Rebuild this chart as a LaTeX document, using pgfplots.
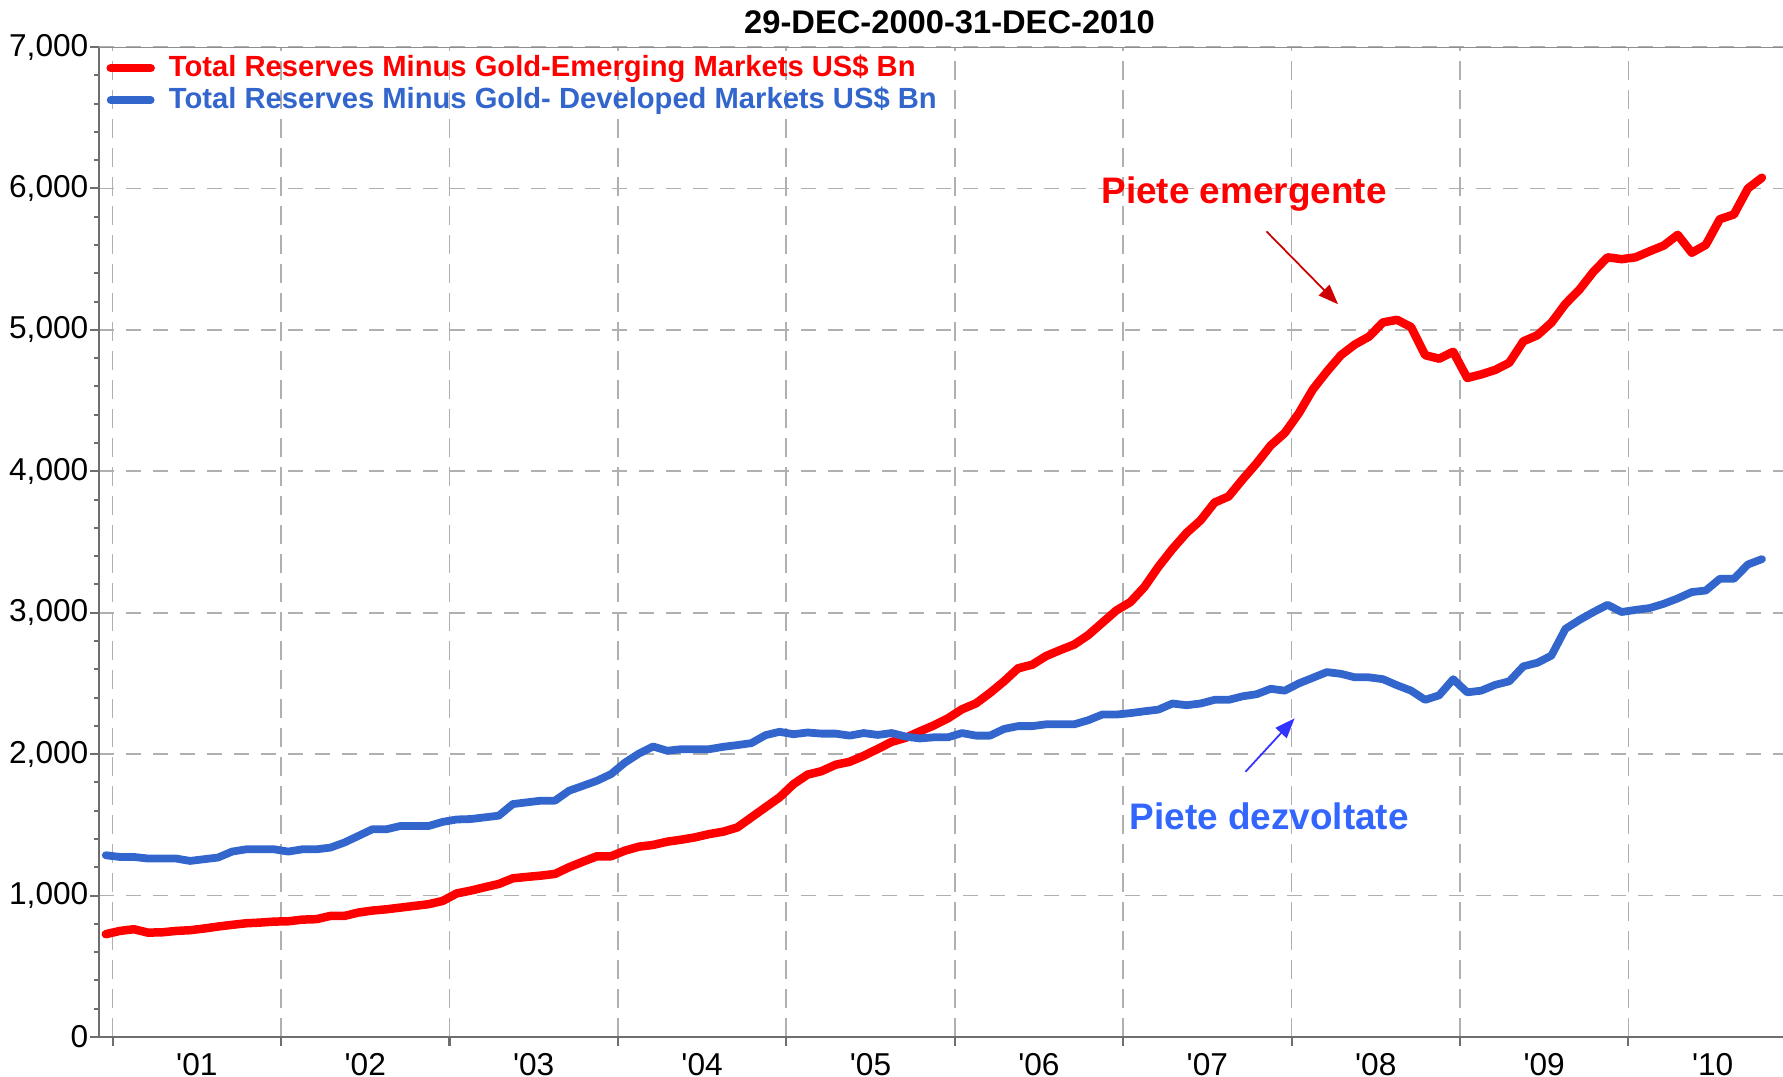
\documentclass[border=0pt]{standalone}
\usepackage{fontspec}
\setmainfont{Liberation Sans}
\usepackage{pgfplots}
\pgfplotsset{compat=1.18}
\usetikzlibrary{arrows.meta}
\definecolor{emred}{HTML}{FF0000}
\definecolor{devblue}{HTML}{3366CC}
\definecolor{annblue}{HTML}{3366FF}
\definecolor{arrblue}{HTML}{3333FF}
\definecolor{arrred}{HTML}{CC0000}
\definecolor{gridgray}{HTML}{B0B0B0}
\definecolor{axisgray}{HTML}{6E6E6E}
\begin{document}
\begin{tikzpicture}
\begin{axis}[
  at={(0,0)}, anchor=south west,
  scale only axis, width=168.4mm, height=99mm,
  xmin=-0.485, xmax=119.5, ymin=0, ymax=7000,
  axis x line*=bottom, axis y line*=left,
  axis line style={axisgray, line width=0.75pt},
  xtick={0.485,12.485,24.485,36.485,48.485,60.485,72.485,84.485,96.485,108.485},
  xticklabels={},
  extra x ticks={6.485,18.485,30.485,42.485,54.485,66.485,78.485,90.485,102.485,114.485},
  extra x tick labels={\textquotesingle01,\textquotesingle02,\textquotesingle03,\textquotesingle04,\textquotesingle05,\textquotesingle06,\textquotesingle07,\textquotesingle08,\textquotesingle09,\textquotesingle10},
  extra x tick style={grid=none, major tick length=0pt, xticklabel style={yshift=-1.15mm}},
  ytick={0,1000,...,7000},
  minor y tick num=4,
  scaled y ticks=false,
  tick align=outside,
  major tick length=0.9mm, minor tick length=0.45mm,
  tick style={axisgray, line width=0.6pt},
  grid=major,
  major x grid style={gridgray, line width=0.5pt, dash pattern=on 1.9mm off 1.0mm},
  major y grid style={gridgray, line width=0.5pt, dash pattern=on 1.5mm off 1.2mm},
  /pgf/number format/assume math mode=true,
  yticklabel style={/pgf/number format/1000 sep={,}, font=\fontsize{9}{10}\selectfont, inner sep=0.1mm},
  xticklabel style={font=\fontsize{9}{10}\selectfont, inner sep=0.4mm},
  legend style={draw=none, fill=none, at={(0.004,1.0)}, anchor=north west, font=\fontsize{8.3}{9.5}\selectfont\bfseries, inner sep=0pt, row sep=-0.9mm,
    nodes={inner xsep=1.4mm}},
  legend cell align=left,
  legend image code/.code={\draw[#1] (0mm,0mm) -- (4mm,0mm);},
]
\addplot[emred, line width=0.85mm, line cap=round, line join=round] coordinates {
(0,727) (1,750) (2,762) (3,738) (4,740) (5,750) (6,755) (7,767) (8,781) (9,793)
(10,804) (11,809) (12,816) (13,818) (14,830) (15,833) (16,856) (17,856) (18,880) (19,894)
(20,903) (21,915) (22,927) (23,939) (24,962) (25,1015) (26,1035) (27,1059) (28,1082) (29,1122)
(30,1132) (31,1141) (32,1153) (33,1200) (34,1240) (35,1278) (36,1278) (37,1318) (38,1346) (39,1358)
(40,1381) (41,1395) (42,1412) (43,1435) (44,1452) (45,1482) (46,1553) (47,1624) (48,1694) (49,1788)
(50,1855) (51,1880) (52,1925) (53,1946) (54,1988) (55,2037) (56,2087) (57,2116) (58,2161) (59,2203)
(60,2253) (61,2317) (62,2359) (63,2433) (64,2515) (65,2607) (66,2632) (67,2694) (68,2736) (69,2775)
(70,2842) (71,2929) (72,3016) (73,3075) (74,3182) (75,3325) (76,3451) (77,3564) (78,3653) (79,3779)
(80,3822) (81,3943) (82,4057) (83,4183) (84,4271) (85,4410) (86,4579) (87,4705) (88,4821) (89,4897)
(90,4952) (91,5053) (92,5071) (93,5020) (94,4821) (95,4796) (96,4845) (97,4660) (98,4685) (99,4717)
(100,4768) (101,4919) (102,4962) (103,5051) (104,5184) (105,5285) (106,5412) (107,5513) (108,5500) (109,5513)
(110,5556) (111,5596) (112,5672) (113,5545) (114,5601) (115,5783) (116,5816) (117,6000) (118,6076)
};
\addlegendentry{\textcolor{emred}{Total Reserves Minus Gold-Emerging Markets US\$ Bn}}
\addplot[devblue, line width=0.78mm, line cap=round, line join=round] coordinates {
(0,1285) (1,1273) (2,1273) (3,1262) (4,1262) (5,1262) (6,1245) (7,1257) (8,1269) (9,1311)
(10,1327) (11,1327) (12,1327) (13,1311) (14,1327) (15,1327) (16,1339) (17,1375) (18,1422) (19,1469)
(20,1469) (21,1492) (22,1492) (23,1492) (24,1521) (25,1538) (26,1541) (27,1553) (28,1565) (29,1647)
(30,1659) (31,1671) (32,1671) (33,1741) (34,1776) (35,1812) (36,1859) (37,1941) (38,2005) (39,2054)
(40,2024) (41,2035) (42,2035) (43,2035) (44,2052) (45,2064) (46,2078) (47,2134) (48,2158) (49,2141)
(50,2153) (51,2145) (52,2145) (53,2131) (54,2149) (55,2136) (56,2149) (57,2124) (58,2111) (59,2119)
(60,2119) (61,2149) (62,2131) (63,2131) (64,2178) (65,2198) (66,2198) (67,2211) (68,2211) (69,2211)
(70,2240) (71,2280) (72,2280) (73,2290) (74,2303) (75,2315) (76,2358) (77,2346) (78,2358) (79,2384)
(80,2384) (81,2409) (82,2424) (83,2462) (84,2449) (85,2500) (86,2540) (87,2580) (88,2568) (89,2543)
(90,2543) (91,2530) (92,2487) (93,2449) (94,2384) (95,2416) (96,2530) (97,2437) (98,2449) (99,2490)
(100,2515) (101,2621) (102,2646) (103,2697) (104,2886) (105,2949) (106,3005) (107,3056) (108,3005) (109,3020)
(110,3033) (111,3063) (112,3101) (113,3146) (114,3157) (115,3240) (116,3240) (117,3341) (118,3379)
};
\addlegendentry{\textcolor{devblue}{Total Reserves Minus Gold- Developed Markets US\$ Bn}}
\draw[gridgray!80!black, line width=0.55pt] (rel axis cs:0,1) -- (rel axis cs:1,1);
\node[text=emred, font=\fontsize{10.5}{12}\selectfont\bfseries] at (axis cs:81.1,5962) {Piete emergente};
\draw[arrred, line width=0.5pt, -{Triangle[length=2mm,width=1.5mm]}] (axis cs:82.7,5696) -- (axis cs:87.8,5181);
\node[text=annblue, font=\fontsize{10.5}{12}\selectfont\bfseries] at (axis cs:82.9,1561) {Piete dezvoltate};
\draw[arrblue, line width=0.5pt, -{Triangle[length=2mm,width=1.5mm]}] (axis cs:81.2,1875) -- (axis cs:84.7,2253);
\end{axis}
\node[font=\fontsize{9.3}{10}\selectfont\bfseries, anchor=center] at (85.05mm,101.45mm) {29-DEC-2000-31-DEC-2010};
\pgfresetboundingbox
\path (-9.9mm,-4.0mm) rectangle (168.4mm,103.7mm);
\end{tikzpicture}
\end{document}
